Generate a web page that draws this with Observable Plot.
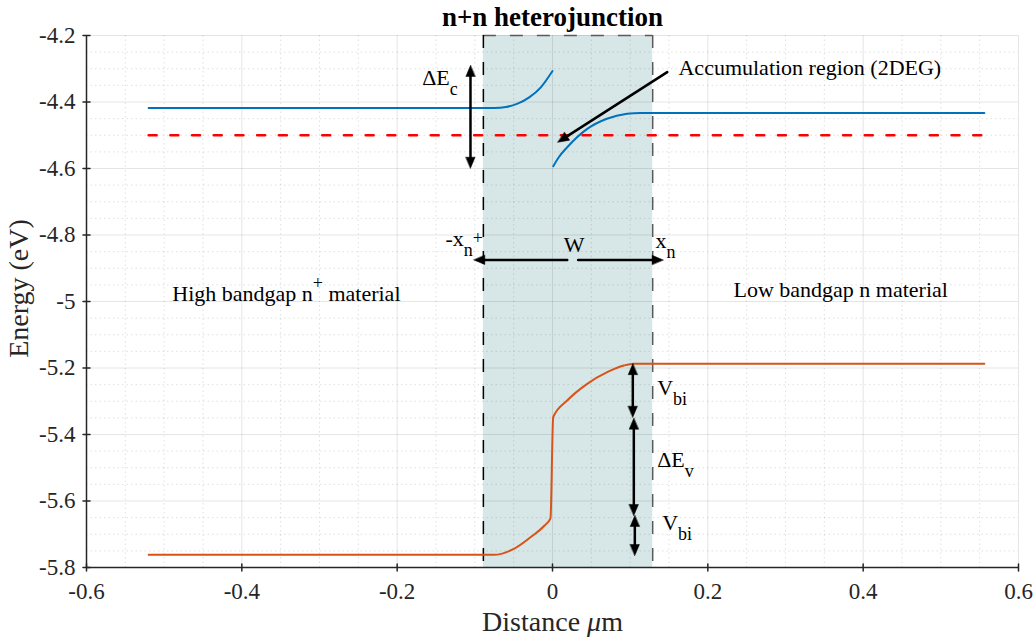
<!DOCTYPE html>
<html><head><meta charset="utf-8">
<script src="https://cdn.jsdelivr.net/npm/d3@7"></script>
<script src="https://cdn.jsdelivr.net/npm/@observablehq/plot@0.6"></script>
<style>body{margin:0;background:#fff;} #chart svg{display:block} #chart text{white-space:pre;font-family:'Liberation Serif','Times New Roman',serif}</style>
</head><body><div id="chart"></div>
<script>
// ---------- data ----------
const xTicks = [-0.6, -0.4, -0.2, 0, 0.2, 0.4, 0.6];
const yTicks = [-5.8, -5.6, -5.4, -5.2, -5, -4.8, -4.6, -4.4, -4.2];

const depletion = [-0.089, 0.129];          // -x_n+ , x_n

const cbLeftX = [-0.52, -0.089, -0.075, -0.06, -0.045, -0.03, -0.015, 0];
const cbLeftE = [-4.418, -4.418, -4.4178, -4.415, -4.405, -4.386, -4.356, -4.307];
const cbRightX = [0.001, 0.0081, 0.019, 0.0447, 0.070, 0.096, 0.113, 0.556];
const cbRightE = [-4.593, -4.566, -4.536, -4.481, -4.4505, -4.4355, -4.433, -4.433];
const vbX = [-0.52, -0.0756, -0.0498, -0.0283, -0.0112, -0.0026, 0.0009, 0.0189, 0.0447, 0.0704, 0.0918, 0.1047, 0.556];
const vbE = [-5.762, -5.762, -5.744, -5.709, -5.676, -5.652, -5.348, -5.2977, -5.2476, -5.2126, -5.1925, -5.187, -5.187];
const fermiX = [-0.52, 0.556];
const fermiE = [-4.5, -4.5];

const dblArrowX  = [-0.1056, 0.1034, 0.1047, 0.106];
const dblArrowY1 = [-4.29, -5.187, -5.351, -5.6436];
const dblArrowY2 = [-4.599, -5.348, -5.6436, -5.764];

const oneArrowX1 = [0.019, 0.033, 0.1477];
const oneArrowY1 = [-4.875, -4.875, -4.310];
const oneArrowX2 = [-0.1013, 0.1425, 0.0069];
const oneArrowY2 = [-4.875, -4.875, -4.521];

const noteText = ["Accumulation region (2DEG)", "ΔE_{c}", "-x_{n}^{+}", "W", "x_{n}",
  "High bandgap n^{+} material", "Low bandgap n material", "V_{bi}", "ΔE_{v}", "V_{bi}"];
const noteX = [0.1622, -0.1678, -0.1378, 0.01455, 0.1326, -0.4896, 0.233, 0.1348, 0.1348, 0.1412];
const noteY = [-4.318, -4.350, -4.8316, -4.8517, -4.8406, -4.997, -4.987, -5.2827, -5.4983, -5.6887];

const titleText = "n+n heterojunction";
const xLabel = "Distance *μ*m";
const yLabel = "Energy (eV)";

// ---------- layout ----------
const W = 1036, H = 638, ML = 86, MR = 18, MT = 35, MB = 71;
const FONT = "Liberation Serif";
const sx = d3.scaleLinear([-0.6, 0.6], [ML, W - MR]);
const sy = d3.scaleLinear([-5.8, -4.2], [H - MB, MT]);

const pts = (X, Y) => X.map((x, i) => ({x, y: Y[i]}));
const cbLeft = pts(cbLeftX, cbLeftE);
const cbRight = pts(cbRightX, cbRightE);
const vb = pts(vbX, vbE);
const fermi = pts(fermiX, fermiE);
const dbl = dblArrowX.map((x, i) => ({x1: x, y1: dblArrowY1[i], x2: x, y2: dblArrowY2[i]}));
const one = oneArrowX1.map((x, i) => ({x1: x, y1: oneArrowY1[i], x2: oneArrowX2[i], y2: oneArrowY2[i]}));
const notes = noteText.map((t, i) => ({t, x: noteX[i], y: noteY[i]}));

const ang = (fx, fy, tx, ty) => Math.atan2(sx(tx) - sx(fx), -(sy(ty) - sy(fy))) * 180 / Math.PI;
const heads = [];
dbl.forEach(d => {
  heads.push({x: d.x1, y: d.y1, r: ang(d.x2, d.y2, d.x1, d.y1)});
  heads.push({x: d.x2, y: d.y2, r: ang(d.x1, d.y1, d.x2, d.y2)});
});
one.forEach(d => heads.push({x: d.x2, y: d.y2, r: ang(d.x1, d.y1, d.x2, d.y2)}));

const headShape = {draw(c, l) { c.moveTo(0, -l); c.lineTo(-l * 0.42, 0); c.lineTo(l * 0.42, 0); c.closePath(); }};
const tickShape = {draw(c, l) { c.moveTo(0, 0); c.lineTo(0, -l); }};

const xMinor = d3.range(-12, 13).filter(i => i % 4 !== 0).map(i => i * 0.05);
const yMinor = d3.range(-116, -83).filter(i => i % 4 !== 0).map(i => i * 0.05);
const fmt = d => String(d);
const AX = "#262626";

const plot = Plot.plot({
  width: W, height: H,
  marginLeft: ML, marginRight: MR, marginTop: MT, marginBottom: MB,
  x: {domain: [-0.6, 0.6]},
  y: {domain: [-5.8, -4.2]},
  style: {fontFamily: FONT, fontSize: "23px", color: AX, background: "#fff", overflow: "visible"},
  marks: [
    // depletion region shading
    Plot.rect([depletion], {x1: d => d[0], x2: d => d[1], y1: -5.8, y2: -4.2, fill: "#d7e6e6"}),
    // grid
    Plot.ruleX(xMinor, {stroke: AX, strokeOpacity: 0.14, strokeDasharray: "1.5,3"}),
    Plot.ruleY(yMinor, {stroke: AX, strokeOpacity: 0.14, strokeDasharray: "1.5,3"}),
    Plot.ruleX(xTicks, {stroke: AX, strokeOpacity: 0.12}),
    Plot.ruleY(yTicks, {stroke: AX, strokeOpacity: 0.12}),
    // depletion edges
    Plot.ruleY([depletion], {y: -4.2, x1: d => d[0], x2: d => d[1], stroke: "#5a5a5a", strokeWidth: 1.5, strokeDasharray: "13,14"}),
    Plot.ruleX([depletion[1]], {stroke: "#5a5a5a", strokeWidth: 1.5, strokeDasharray: "13,14"}),
    Plot.ruleX([depletion[0]], {stroke: "#000", strokeWidth: 1.5, strokeDasharray: "13,14"}),
    // bands
    Plot.line(fermi, {x: "x", y: "y", stroke: "#ff0000", strokeWidth: 2.5, strokeDasharray: "8,13.7"}),
    Plot.line(cbLeft, {x: "x", y: "y", stroke: "#0072BD", strokeWidth: 2, curve: "monotone-x"}),
    Plot.line(cbRight, {x: "x", y: "y", stroke: "#0072BD", strokeWidth: 2, curve: "monotone-x"}),
    Plot.line(vb, {x: "x", y: "y", stroke: "#D95319", strokeWidth: 2, curve: "monotone-x"}),
    // axes
    Plot.ruleX([-0.6], {stroke: AX, strokeWidth: 1.5}),
    Plot.ruleY([-5.8], {stroke: AX, strokeWidth: 1.5}),
    Plot.vector(xTicks, {x: d => d, y: -5.8, length: 7, rotate: 0, anchor: "middle", shape: tickShape, stroke: AX, strokeWidth: 1.5}),
    Plot.vector(yTicks, {x: -0.6, y: d => d, length: 7, rotate: 90, anchor: "middle", shape: tickShape, stroke: AX, strokeWidth: 1.5}),
    Plot.axisX(xTicks, {tickSize: 0, tickPadding: 15, tickFormat: fmt, label: null, fontSize: 23, fontFamily: FONT}),
    Plot.axisY(yTicks, {tickSize: 0, tickPadding: 11, tickFormat: fmt, label: null, fontSize: 23, fontFamily: FONT}),
    // arrows
    Plot.arrow(dbl, {x1: "x1", y1: "y1", x2: "x2", y2: "y2", headLength: 0, insetStart: 8, insetEnd: 8, stroke: "#000", strokeWidth: 2.5, bend: 0}),
    Plot.arrow(one, {x1: "x1", y1: "y1", x2: "x2", y2: "y2", headLength: 0, insetEnd: 8, stroke: "#000", strokeWidth: 2.5, bend: 0}),
    Plot.vector(heads, {x: "x", y: "y", rotate: "r", length: 11, anchor: "end", shape: headShape, fill: "#000", stroke: "#000", strokeWidth: 0.5}),
    // annotations
    Plot.text(notes, {x: "x", y: "y", text: "t", textAnchor: "start", lineAnchor: "bottom", fontSize: 22, fontFamily: FONT, fill: "#000"}),
    Plot.text([titleText], {x: 0, y: -4.2, dy: -10, lineAnchor: "bottom", fontSize: 27, fontWeight: "bold", fontFamily: FONT, fill: "#000"}),
    Plot.text([xLabel], {frameAnchor: "bottom", textAnchor: "middle", lineAnchor: "bottom", dy: 63, fontSize: 28, fontFamily: FONT, fill: AX}),
    Plot.text([yLabel], {frameAnchor: "left", textAnchor: "middle", lineAnchor: "middle", rotate: -90, dx: -67, dy: -13, fontSize: 28, fontFamily: FONT, fill: AX})
  ]
});

// rich text: _{sub}, ^{sup}, *italic*
d3.select(plot).selectAll("text").each(function () {
  const s = this.textContent;
  if (!/[_^]\{|\*/.test(s)) return;
  const parts = s.split(/([_^]\{[^}]*\}|\*[^*]+\*)/).filter(p => p !== "");
  const el = d3.select(this);
  el.text("");
  let cur = 0;
  parts.forEach(p => {
    let target = 0, txt = p, small = false, italic = false;
    if (p.startsWith("_{")) { target = cur + 10; txt = p.slice(2, -1); small = true; }
    else if (p.startsWith("^{")) { target = cur - 12; txt = p.slice(2, -1); small = true; }
    else if (p.startsWith("*")) { txt = p.slice(1, -1); italic = true; }
    const ts = el.append("tspan").text(txt);
    if (target - cur !== 0) ts.attr("dy", target - cur);
    if (small) ts.attr("font-size", 18);
    if (italic) ts.attr("font-style", "italic");
    cur = target;
  });
});

document.getElementById("chart").append(plot);
</script>
</body></html>
